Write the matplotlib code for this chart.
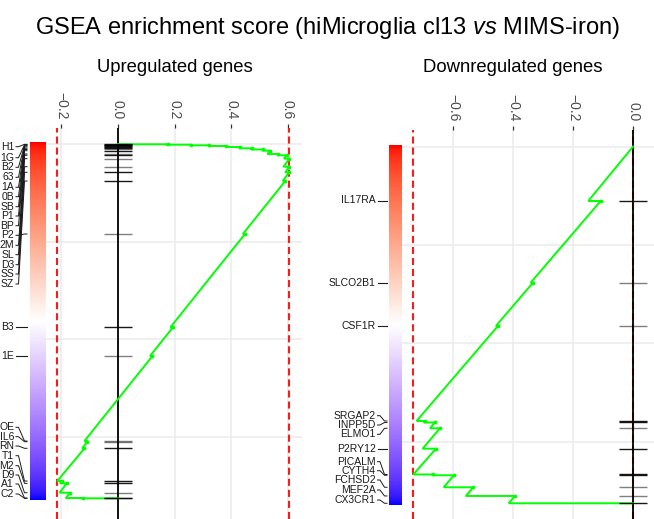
import numpy as np
import matplotlib
matplotlib.use("Agg")
import matplotlib.pyplot as plt
from matplotlib.colors import ListedColormap

# ------------------------------------------------------------------ data
N_GENES = 18140
RANK_GRID = [0, 5000, 10000, 15000]

up_ticks = [-0.2, 0.0, 0.2, 0.4, 0.6]
down_ticks = [-0.6, -0.4, -0.2, 0.0]

# upregulated gene set (labels as visible in the reference, cut at the figure edge)
up_genes = ['H1', '1G', 'B2', '63', '1A', '0B', 'SB', 'P1', 'BP', '2M', 'SL', 'D3',
            'SS', 'SZ', 'P2', 'B3', '1E', 'OE', 'IL6', 'RN', 'T1', 'M2', 'D9', 'A1', 'C2']
up_rank = [15, 36, 67, 102, 154, 220, 281, 343, 512, 578, 752, 1162, 1448, 1894,
           4606, 9381, 10850, 15200, 15236, 15574, 17248, 17366, 17847, 18118, 18133]
up_es_before = [0.0, 0.1749, 0.2562, 0.3208, 0.3788, 0.4276, 0.4693, 0.5101, 0.5283,
                0.5629, 0.5866, 0.5845, 0.5908, 0.5820, 0.4413, 0.1852, 0.1131,
                -0.1184, -0.1148, -0.1265, -0.2145, -0.2049, -0.2064, -0.1845, -0.1251]
up_es_after = [0.1756, 0.2580, 0.3226, 0.3816, 0.4311, 0.4724, 0.5134, 0.5371, 0.5664,
               0.5961, 0.6060, 0.6060, 0.6053, 0.5912, 0.4488, 0.1943, 0.1219,
               -0.1131, -0.1078, -0.1184, -0.1989, -0.1813, -0.1696, -0.1247, 0.0]
up_group = [1, 1, 1, 1, 1, 1, 0, 1, 0, 1, 0, 0, 1, 1, 0, 1, 0, 0, 0, 1, 1, 1, 0, 1, 0]

# downregulated gene set
down_genes = ['IL17RA', 'SLCO2B1', 'CSF1R', 'SRGAP2', 'INPP5D', 'ELMO1', 'P2RY12',
              'PICALM', 'CYTH4', 'FCHSD2', 'MEF2A', 'CX3CR1']
down_rank = [2762, 6917, 9119, 13951, 14027, 14322, 15360, 16672, 16713, 17323, 17765, 18137]
down_es_before = [-0.1490, -0.3410, -0.4570, -0.7213, -0.6977, -0.6767, -0.7013,
                  -0.7323, -0.6667, -0.6310, -0.5573, -0.4143]
down_es_after = [-0.1077, -0.3333, -0.4500, -0.6933, -0.6600, -0.6433, -0.6567,
                 -0.6657, -0.5967, -0.5323, -0.3933, 0.0]
down_group = [1, 0, 0, 1, 1, 0, 1, 1, 1, 0, 0, 1]

# ------------------------------------------------------------------ layout (pixels)
W, H = 654, 519
FONT = 'Liberation Sans'
plt.rcParams['font.family'] = [FONT, 'DejaVu Sans']
plt.rcParams['mathtext.fontset'] = 'custom'
plt.rcParams['mathtext.rm'] = FONT
plt.rcParams['mathtext.it'] = FONT + ':italic'

# label positions of the repelled gene names (pixel y, in gene order)
up_label_py = [146.7, 157.7, 167.3, 177.3, 187.3, 196.7, 206.7, 216.0, 225.7, 245.3,
               254.7, 264.7, 274.0, 284.0, 235.3, 327.3, 356.0, 427.3, 436.7, 446.0,
               455.7, 465.7, 475.0, 484.0, 494.0]
down_label_py = [200.0, 282.7, 325.7, 415.7, 425.0, 434.3, 449.3, 461.7, 470.7,
                 480.0, 490.0, 500.0]

panels = [
    dict(name='Upregulated genes', genes=up_genes, rank=up_rank, before=up_es_before,
         after=up_es_after, group=up_group, ticks=up_ticks, label_py=up_label_py,
         main=(46, 302, 127.5, 519), x0px=118, pxper=283.0, r0px=144.0, gridpx=97.7,
         cbar=(30, 46), lab=(0, 30), lab_right=14, lab_tick=27, title_x=175, hw=0.05),
    dict(name='Downregulated genes', genes=down_genes, rank=down_rank, before=down_es_before,
         after=down_es_after, group=down_group, ticks=down_ticks, label_py=down_label_py,
         main=(402, 654, 130, 519), x0px=633, pxper=300.0, r0px=146.7, gridpx=98.3,
         cbar=(389, 402), lab=(320, 389), lab_right=375.5, lab_tick=387, title_x=513, hw=0.046),
]


def box(x0, x1, y0, y1):
    return [x0 / W, 1 - y1 / H, (x1 - x0) / W, (y1 - y0) / H]


# ------------------------------------------------------------------ colour ramp (Lab, like ggplot)
M = np.array([[0.4124564, 0.3575761, 0.1804375],
              [0.2126729, 0.7151522, 0.0721750],
              [0.0193339, 0.1191920, 0.9503041]])
WP = np.array([0.95047, 1.0, 1.08883])


def srgb_to_lab(rgb):
    rgb = np.asarray(rgb, float)
    lin = np.where(rgb <= 0.04045, rgb / 12.92, ((rgb + 0.055) / 1.055) ** 2.4)
    t = (lin @ M.T) / WP
    d = 6 / 29
    f = np.where(t > d ** 3, np.cbrt(t), t / (3 * d * d) + 4 / 29)
    return np.stack([116 * f[..., 1] - 16, 500 * (f[..., 0] - f[..., 1]),
                     200 * (f[..., 1] - f[..., 2])], -1)


def lab_to_srgb(lab):
    fy = (lab[..., 0] + 16) / 116
    f = np.stack([fy + lab[..., 1] / 500, fy, fy - lab[..., 2] / 200], -1)
    d = 6 / 29
    t = np.where(f > d, f ** 3, 3 * d * d * (f - 4 / 29))
    lin = np.clip((t * WP) @ np.linalg.inv(M).T, 0, 1)
    return np.clip(np.where(lin <= 0.0031308, 12.92 * lin, 1.055 * lin ** (1 / 2.4) - 0.055), 0, 1)


red, white, blue = srgb_to_lab([1, 0, 0]), srgb_to_lab([1, 1, 1]), srgb_to_lab([0, 0, 1])
s = np.linspace(0, 1, 128)[:, None]
ramp = np.vstack([red + (white - red) * s, white + (blue - white) * s])
cmap = ListedColormap(lab_to_srgb(ramp))

# ------------------------------------------------------------------ figure
fig = plt.figure(figsize=(W / 100, H / 100), dpi=100)

fig.text(327 / W, 1 - 28 / H, r"GSEA enrichment score (hiMicroglia cl13 $\it{vs}$ MIMS-iron)",
         ha='center', va='center', fontsize=17, color='black')

for p in panels:
    x0, x1, y0, y1 = p['main']
    rank_of = lambda py, p=p: (py - p['r0px']) * 5000.0 / p['gridpx']
    es_of = lambda px, p=p: (px - p['x0px']) / p['pxper']
    ylim = (rank_of(y1), rank_of(y0))

    fig.text(p['title_x'] / W, 1 - 67 / H, p['name'], ha='center', va='center',
             fontsize=13.3, color='black')

    ax = fig.add_axes(box(x0, x1, y0, y1))
    ax.set_xlim(es_of(x0), es_of(x1))
    ax.set_ylim(*ylim)
    for sp in ax.spines.values():
        sp.set_visible(False)
    ax.set_axisbelow(True)
    ax.set_yticks(RANK_GRID)
    ax.set_yticklabels([])
    ax.tick_params(axis='y', length=0)
    ax.set_xticks(p['ticks'])
    ax.set_xticklabels([f"{t:.1f}".replace('-', '\u2212') for t in p['ticks']])
    ax.xaxis.tick_top()
    ax.tick_params(axis='x', top=True, bottom=False, labeltop=True, labelbottom=False,
                   length=3, width=0.9, color='#333333', labelsize=10,
                   labelcolor='#4D4D4D', pad=3, labelrotation=-90)
    ax.grid(True, color='#EBEBEB', lw=1.1)

    rank = np.array(p['rank'])
    before = np.array(p['before'])
    after = np.array(p['after'])
    curve_r = np.concatenate([[0], np.ravel(np.column_stack([rank, rank]))])
    curve_es = np.concatenate([[0], np.ravel(np.column_stack([before, after]))])

    # extreme ES lines
    for v in (curve_es.min(), curve_es.max()):
        ax.axvline(v, color='#FF1A1A', lw=1.5, dashes=(3.4, 1.9), zorder=2)
    ax.axvline(0, color='black', lw=1.3, zorder=3)

    # running enrichment score
    ax.plot(curve_es, curve_r, color='#00FF00', lw=1.4, zorder=4,
            solid_joinstyle='miter')
    ax.plot(after[:-1], rank[:-1], 'o', color='#00FF00', ms=1.7, zorder=4)

    # hits
    for r, g in zip(rank, p['group']):
        ax.plot([-p['hw'], p['hw']], [r, r], color='black', lw=1.0,
                alpha=0.9 if g else 0.5, zorder=5, solid_capstyle='butt')

    # colour bar of the ranked list
    cx0, cx1 = p['cbar']
    cax = fig.add_axes(box(cx0, cx1, y0, y1))
    cax.imshow(np.linspace(0, 1, 256)[:, None], cmap=cmap, aspect='auto',
               extent=(0, 1, N_GENES + 90, -75), interpolation='bilinear')
    cax.set_xlim(0, 1)
    cax.set_ylim(*ylim)
    cax.axis('off')

    # gene labels with connectors
    lx0, lx1 = p['lab']
    lax = fig.add_axes(box(lx0, lx1, y0, y1))
    lax.set_xlim(lx0, lx1)
    lax.set_ylim(*ylim)
    lax.axis('off')
    xr, xt = p['lab_right'], p['lab_tick']
    for gname, r, lpy in zip(p['genes'], rank, p['label_py']):
        ly = rank_of(lpy)
        lax.text(xr, ly, gname, ha='right', va='center', fontsize=7.5, color='#1A1A1A',
                 clip_on=False)
        if abs(ly - r) < 60:
            lax.plot([xr + 2, xt], [r, r], color='#1A1A1A', lw=0.8, clip_on=False)
        else:
            lax.plot([xr + 2, xr + 4.5, xt - 2.5, xt], [ly, ly, r, r], color='#1A1A1A',
                     lw=0.7, clip_on=False)

fig.savefig('out.png', dpi=100)
